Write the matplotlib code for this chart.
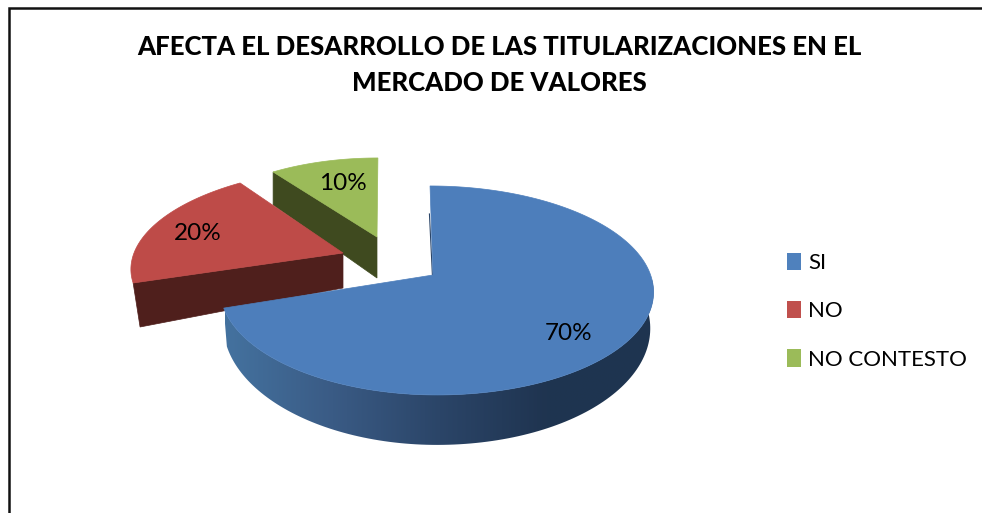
import numpy as np
import matplotlib
matplotlib.use("Agg")
import matplotlib.pyplot as plt
from matplotlib.patches import Polygon, Patch
from matplotlib.colors import LinearSegmentedColormap
from matplotlib import font_manager as fm

title_lines = ["AFECTA EL DESARROLLO DE LAS TITULARIZACIONES EN EL", "MERCADO DE VALORES"]
categories = ["SI", "NO", "NO CONTESTO"]
values = [70, 20, 10]
top_colors = ["#4D7EBB", "#BE4B48", "#9BBB59"]
legend_colors = ["#4F81BD", "#C0504D", "#9BBB59"]
wall_colors = [None, "#4F1F1C", "#3F4A1F"]

# projection of each exploded wedge: apex x/y, R, S, k, shear, left factor, depth0, depth slope, bottom x scale
geom = [
    dict(cx=433, cy=275, R=217.6, S=102.2, k=0.148, s=-3.4, lf=0.97, d0=34, ds=0.133, xs=0.985),
    dict(cx=343, cy=253, R=209, S=93.9, k=0.105, s=13.85, lf=1.0, d0=35, ds=0.30, xs=0.967),
    dict(cx=377, cy=237, R=192, S=86.7, k=0.097, s=1.0, lf=1.0, d0=41, ds=0.123, xs=1.0),
]
label_pos = [(569, 333), (198, 234), (343, 184)]

fig = plt.figure(figsize=(9.82, 5.13), dpi=100)
ax = fig.add_axes([0, 0, 1, 1])
ax.axis("off")

# frame of the chart area
ax.plot([9, 9, 982], [513, 8, 8], color="#111111", lw=1.8, solid_joinstyle="miter", clip_on=False)


def project(theta, g):
    u, v = np.sin(theta), np.cos(theta)
    w = 1 + g["k"] * v
    x = (g["R"] * u * np.where(u < 0, g["lf"], 1.0) + g["s"] * v) / w
    y = -g["S"] * v / w
    return x, y


def lower(dx, dy, g):
    return g["cx"] + dx * g["xs"], g["cy"] + dy + g["d0"] + g["ds"] * dy


ends = np.cumsum(values) / np.sum(values) * 2 * np.pi
starts = ends - np.array(values) / np.sum(values) * 2 * np.pi
wall_cmap = LinearSegmentedColormap.from_list(
    "wall", ["#44729F", "#3A5B85", "#2B4568", "#1F3450", "#1E3550"])

for i in [2, 1, 0]:
    g = geom[i]
    th = np.linspace(starts[i], ends[i], 200)
    dx, dy = project(th, g)
    top_x, top_y = g["cx"] + dx, g["cy"] + dy
    bot_x, bot_y = lower(dx, dy, g)
    if i == 0:
        # shaded outer wall: a horizontal gradient clipped to the rim
        rim = Polygon(np.column_stack([np.r_[top_x, bot_x[::-1]], np.r_[top_y, bot_y[::-1]]]),
                      closed=True, transform=ax.transData, fc="none", ec="none")
        ax.add_patch(rim)
        img = ax.imshow(np.linspace(0, 1, 256)[None, :], cmap=wall_cmap, aspect="auto",
                        extent=(225, 654, 450, 280), zorder=2, interpolation="bilinear")
        img.set_clip_path(rim)
        ax.plot([top_x[0] - 0.6, g["cx"] - 0.6], [top_y[0] + 28, g["cy"]],
                color="#2B4568", lw=0.8, zorder=2)
    else:
        # radial inner wall facing the viewer
        ax.add_patch(Polygon([(g["cx"], g["cy"]), (top_x[0], top_y[0]), (bot_x[0], bot_y[0]), lower(0, 0, g)],
                             closed=True, fc=wall_colors[i], ec=wall_colors[i], lw=0.5, zorder=1 + (i == 1) * 0.5))
    ax.add_patch(Polygon(np.column_stack([np.r_[g["cx"], top_x], np.r_[g["cy"], top_y]]),
                         closed=True, fc=top_colors[i], ec=top_colors[i], lw=0.5,
                         zorder=3 if i == 0 else 1.2 + (i == 1) * 0.5))

ax.set_xlim(0, 982)
ax.set_ylim(513, 0)

font_pct = ["Lato", "Open Sans", "DejaVu Sans"]
for v, (x, y) in zip(values, label_pos):
    ax.text(x, y, f"{v}%", ha="center", va="center", fontsize=17.5, family=font_pct, color="black", zorder=5)

handles = [Patch(fc=c, ec="none") for c in legend_colors]
leg = ax.legend(handles, categories, loc="upper left", bbox_to_anchor=(787 / 982, 1 - 253 / 513),
                frameon=False, prop=fm.FontProperties(family=font_pct, size=16),
                handlelength=0.63, handleheight=0.82, handletextpad=0.32, labelspacing=1.25,
                borderpad=0, borderaxespad=0)
for t in leg.get_texts():
    t.set_color("black")

t1 = ax.text(499, 47, title_lines[0], ha="center", va="center", family="Lato",
             fontweight=900, fontsize=20, color="black")
t2 = ax.text(499, 83, title_lines[1], ha="center", va="center", family="Lato",
             fontweight=900, fontsize=20, color="black")
fig.canvas.draw()
w = t1.get_window_extent().width
size = 20 * 722 / w
t1.set_fontsize(size)
t2.set_fontsize(size)

fig.savefig("out.png", dpi=100)
